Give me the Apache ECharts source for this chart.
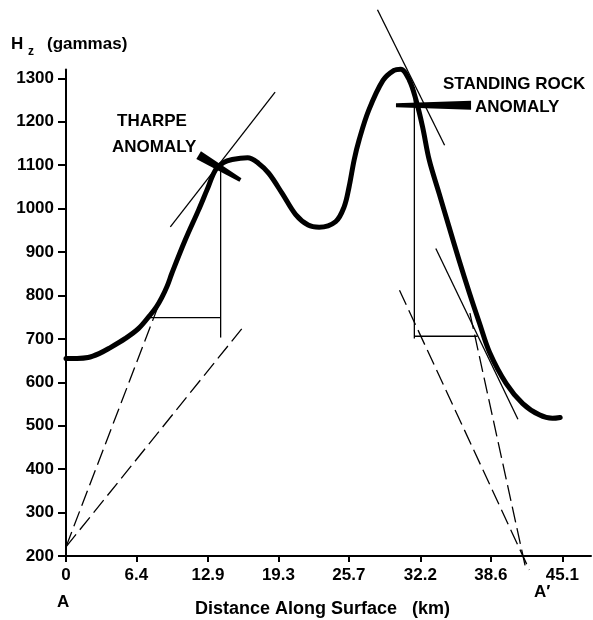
<!DOCTYPE html>
<html>
<head>
<meta charset="utf-8">
<script src="https://cdn.jsdelivr.net/npm/echarts@6/dist/echarts.min.js"></script>
<style>
  html, body { margin: 0; padding: 0; background: #fff; }
  #chart { width: 593px; height: 620px; }
</style>
</head>
<body>
<div id="chart"></div>
<script>
// Vertical magnetic intensity profile A–A'
const distanceKm = [0, 1.0, 2.0, 3.0, 3.9, 5.4, 6.6, 7.65, 8.2, 8.7, 9.2, 9.62, 10.84, 12.05, 12.81, 13.58, 14.3, 15.1, 16.5, 17.5, 18.43, 19.64, 20.87, 22.0, 23.0, 24.5, 25.27, 25.72, 26.18, 26.63, 27.5, 28.8, 29.8, 30.4, 31.19, 31.8, 32.4, 33.0, 33.9, 34.8, 35.7, 36.66, 37.57, 38.5, 40.0, 41.5, 43.0, 44.2, 44.9];
const hzGammas   = [655, 655, 657, 666, 678, 701, 724, 755, 773, 795, 822, 851, 928, 997, 1043, 1089, 1106, 1113, 1117, 1104, 1081, 1035, 986, 962, 957, 970, 1004, 1050, 1112, 1158, 1226, 1295, 1318, 1321, 1296, 1250, 1188, 1112, 1035, 958, 882, 805, 736, 668, 597, 551, 525, 517, 519];

const xTickLabels = ['0', '6.4', '12.9', '19.3', '25.7', '32.2', '38.6', '45.1'];
const yTickValues = [200, 300, 400, 500, 600, 700, 800, 900, 1000, 1100, 1200, 1300];

// Depth-estimate construction lines, [km, gammas] end points
const tharpeTangent     = [[9.48, 958], [19.0, 1268]];
const tharpeVertical    = [[14.05, 1100], [14.05, 703]];
const tharpeHalfWidth   = [[7.35, 749], [14.05, 749]];
const standingTangent   = [[28.3, 1458], [34.4, 1146]];
const standingVertical  = [[31.65, 1280], [31.65, 701]];
const standingHalfWidth = [[31.65, 706], [37.4, 706]];
const standingFlank     = [[33.6, 908], [41.06, 515]];

const tharpeRaySteep     = [[0, 221], [8.7, 797]];
const tharpeRayShallow   = [[0, 221], [16.25, 732]];
const standingRayShallow = [[30.3, 812], [42.1, 168]];
const standingRaySteep   = [[36.7, 759], [41.8, 168]];

// Pointer arrows: [tailKm, tailGammas, tipKm, tipGammas]
const anomalyArrows = [
  [12.05, 1123, 15.85, 1066],
  [36.8, 1238, 29.98, 1238]
];

const FONT = 'Liberation Sans';
const INK = '#000';
const xTickValues = xTickLabels.map(Number);

function segment(points, dashed) {
  return {
    type: 'line',
    data: points,
    symbol: 'none',
    clip: false,
    silent: true,
    z: 3,
    lineStyle: {
      color: INK,
      width: 1.3,
      type: dashed ? [16, 6] : 'solid'
    }
  };
}

const chart = echarts.init(document.getElementById('chart'), null, { renderer: 'canvas' });

chart.setOption({
  backgroundColor: '#fff',
  animation: false,
  grid: { left: 66, right: 2, top: 69.6, bottom: 64 },
  xAxis: {
    type: 'value',
    min: 0,
    max: 47.7,
    axisLine: { show: true, lineStyle: { color: INK, width: 2 } },
    axisTick: {
      show: true, inside: false, length: 6,
      lineStyle: { color: INK, width: 2 },
      customValues: xTickValues
    },
    axisLabel: {
      customValues: xTickValues,
      formatter: v => xTickLabels[xTickValues.indexOf(v)] ?? '',
      color: INK, fontFamily: FONT, fontSize: 17, fontWeight: 'bold', margin: 11
    },
    splitLine: { show: false }
  },
  yAxis: {
    type: 'value',
    min: 200,
    max: 1320,
    axisLine: { show: true, lineStyle: { color: INK, width: 2 } },
    axisTick: {
      show: true, inside: false, length: 8,
      lineStyle: { color: INK, width: 2 },
      customValues: yTickValues
    },
    axisLabel: {
      customValues: yTickValues,
      formatter: v => String(v),
      color: INK, fontFamily: FONT, fontSize: 17, fontWeight: 'bold', margin: 12
    },
    splitLine: { show: false }
  },
  graphic: [
    { type: 'text', left: 11, top: 36, style: { text: 'H', font: `bold 17px "${FONT}"`, fill: INK } },
    { type: 'text', left: 28, top: 46, style: { text: 'z', font: `bold 12px "${FONT}"`, fill: INK } },
    { type: 'text', left: 47, top: 36, style: { text: '(gammas)', font: `bold 17px "${FONT}"`, fill: INK } },
    { type: 'text', left: 117, top: 113, style: { text: 'THARPE', font: `bold 17px "${FONT}"`, fill: INK } },
    { type: 'text', left: 112, top: 139, style: { text: 'ANOMALY', font: `bold 17px "${FONT}"`, fill: INK } },
    { type: 'text', left: 443, top: 76, style: { text: 'STANDING ROCK', font: `bold 17px "${FONT}"`, fill: INK } },
    { type: 'text', left: 475, top: 99, style: { text: 'ANOMALY', font: `bold 17px "${FONT}"`, fill: INK } },
    { type: 'text', left: 57, top: 594, style: { text: 'A', font: `bold 17px "${FONT}"`, fill: INK } },
    { type: 'text', left: 534, top: 584, style: { text: 'A\u2032', font: `bold 17px "${FONT}"`, fill: INK } },
    { type: 'text', left: 195, top: 600, style: { text: 'Distance Along Surface   (km)', font: `bold 18px "${FONT}"`, fill: INK } }
  ],
  series: [
    {
      type: 'line',
      name: 'Hz',
      data: distanceKm.map((x, i) => [x, hzGammas[i]]),
      smooth: 0.35,
      symbol: 'none',
      clip: false,
      z: 4,
      lineStyle: { color: INK, width: 5, cap: 'round', join: 'round' }
    },
    segment(tharpeTangent, false),
    segment(tharpeVertical, false),
    segment(tharpeHalfWidth, false),
    segment(standingTangent, false),
    segment(standingVertical, false),
    segment(standingHalfWidth, false),
    segment(standingFlank, false),
    segment(tharpeRaySteep, true),
    segment(tharpeRayShallow, true),
    segment(standingRayShallow, true),
    segment(standingRaySteep, true),
    {
      type: 'custom',
      clip: false,
      silent: true,
      z: 5,
      data: anomalyArrows,
      renderItem: (params, api) => {
        const tail = api.coord([api.value(0), api.value(1)]);
        const tip = api.coord([api.value(2), api.value(3)]);
        const dx = tip[0] - tail[0], dy = tip[1] - tail[1];
        const len = Math.hypot(dx, dy) || 1;
        const nx = -dy / len, ny = dx / len;
        const wTail = 4.5, wTip = 2;
        return {
          type: 'polygon',
          shape: {
            points: [
              [tail[0] + nx * wTail, tail[1] + ny * wTail],
              [tip[0] + nx * wTip, tip[1] + ny * wTip],
              [tip[0] - nx * wTip, tip[1] - ny * wTip],
              [tail[0] - nx * wTail, tail[1] - ny * wTail]
            ]
          },
          style: { fill: INK }
        };
      }
    }
  ]
});
</script>
</body>
</html>
